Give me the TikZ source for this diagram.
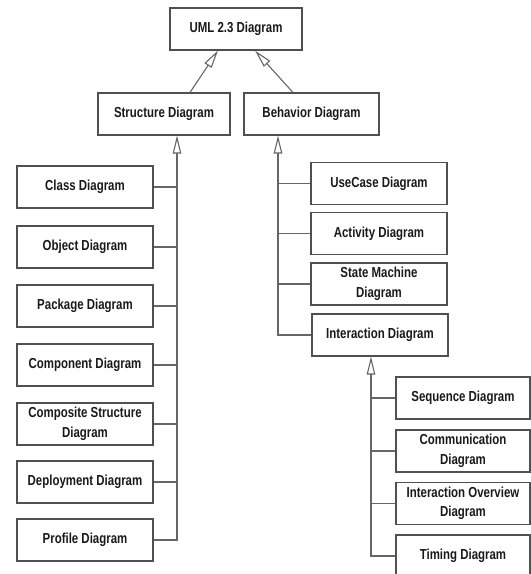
\documentclass[tikz,border=0pt]{standalone}
\usepackage{fontspec}
\setmainfont{Liberation Sans}[FakeStretch=0.79]
\usetikzlibrary{arrows.meta}
\definecolor{boxline}{HTML}{505050}
\definecolor{conline}{HTML}{666666}
\begin{document}
\begin{tikzpicture}[x=1pt,y=-1pt,
  box/.style={draw=boxline, line width=1.1pt, rectangle, inner sep=0pt,
    minimum height=42pt, align=center, text=black!90,
    font=\fontsize{14.5}{19.5}\selectfont\bfseries},
  con/.style={draw=conline, line width=1.1pt},
  gen/.style={con, -{Triangle[open, length=18pt, width=8.5pt, fill=white]}}
]
\useasboundingbox (0,0) rectangle (531,574);
% top
\node[box, minimum width=132pt] (UML) at (236,29) {UML 2.3 Diagram};
\node[box, minimum width=132pt] (Structure) at (164,114) {Structure Diagram};
\node[box, minimum width=135pt] (Behavior) at (311.5,114) {Behavior Diagram};
% structure children
\node[box, minimum width=136pt] (Class) at (85,187) {Class Diagram};
\node[box, minimum width=136pt] (Object) at (85,247) {Object Diagram};
\node[box, minimum width=136pt] (Package) at (85,306) {Package Diagram};
\node[box, minimum width=136pt] (Component) at (85,365) {Component Diagram};
\node[box, minimum width=136pt] (Composite) at (85,424) {Composite Structure\\Diagram};
\node[box, minimum width=136pt] (Deployment) at (85,482) {Deployment Diagram};
\node[box, minimum width=136pt] (Profile) at (85,540) {Profile Diagram};
% behavior children
\node[box, minimum width=136pt] (UseCase) at (379,183.5) {UseCase Diagram};
\node[box, minimum width=136pt] (Activity) at (379,233.5) {Activity Diagram};
\node[box, minimum width=136pt] (StateMachine) at (379,284) {State Machine\\Diagram};
\node[box, minimum width=136pt] (Interaction) at (380,335) {Interaction Diagram};
% interaction children
\node[box, minimum width=134pt] (Sequence) at (463,398) {Sequence Diagram};
\node[box, minimum width=134pt] (Communication) at (463,451) {Communication\\Diagram};
\node[box, minimum width=134pt] (Overview) at (463,503.5) {Interaction Overview\\Diagram};
\node[box, minimum width=134pt] (Timing) at (463,556) {Timing Diagram};
% trunk x positions
\coordinate (sx) at (177,0);
\coordinate (bx) at (278,0);
\coordinate (ix) at (371,0);
% top generalizations
\draw[gen] ([xshift=26pt]Structure.north) -- ([xshift=-18pt]UML.south);
\draw[gen] ([xshift=-18.5pt]Behavior.north) -- ([xshift=19pt]UML.south);
% structure trunk
\draw[gen] (Profile.east) -| (Structure.south -| sx);
\foreach \n in {Class,Object,Package,Component,Composite,Deployment}
  \draw[con] (\n.east) -- (\n.east -| sx);
% behavior trunk
\draw[gen] (Interaction.west) -| (Behavior.south -| bx);
\foreach \n in {UseCase,Activity,StateMachine}
  \draw[con] (\n.west) -- (\n.west -| bx);
% interaction trunk
\draw[gen] (Timing.west) -| (Interaction.south -| ix);
\foreach \n in {Sequence,Communication,Overview}
  \draw[con] (\n.west) -- (\n.west -| ix);
\end{tikzpicture}
\end{document}
